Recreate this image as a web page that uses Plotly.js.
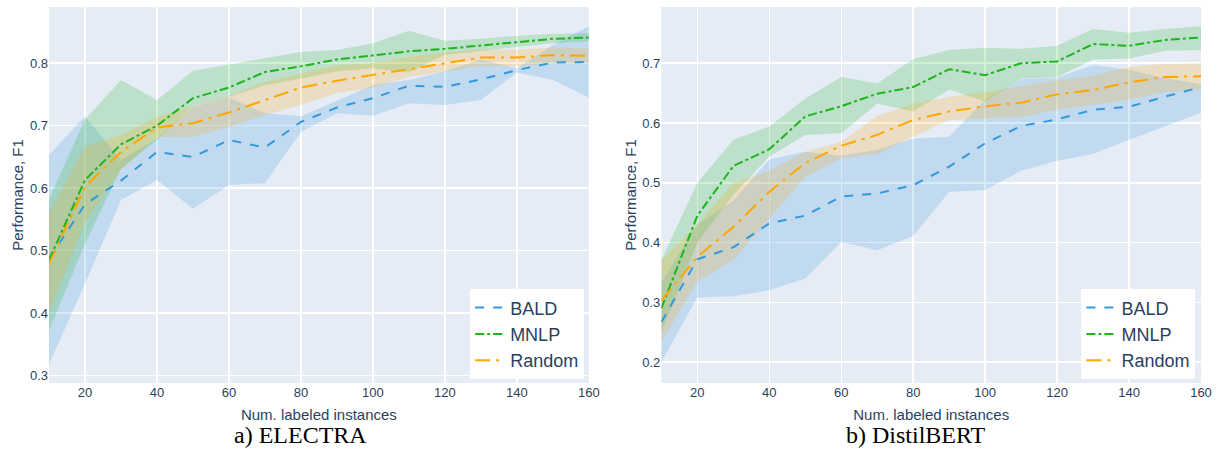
<!DOCTYPE html>
<html><head><meta charset="utf-8">
<script src="https://cdn.plot.ly/plotly-3.0.1.min.js"></script>
<style>html,body{margin:0;padding:0;background:#fff}#chart{width:1218px;height:457px}</style>
</head><body><div id="chart"></div>
<script>
// ---- data ----
const labeled = [10,20,30,40,50,60,70,80,90,100,110,120,130,140,150,160];
const methods = ['BALD','MNLP','Random'];

// a) ELECTRA
const electraBaldMean  = [0.487,0.574,0.612,0.658,0.650,0.677,0.665,0.706,0.729,0.744,0.764,0.762,0.774,0.789,0.801,0.802];
const electraBaldUpper = [0.653,0.715,0.645,0.680,0.730,0.745,0.720,0.715,0.740,0.765,0.773,0.787,0.806,0.792,0.829,0.859];
const electraBaldLower = [0.318,0.447,0.581,0.613,0.567,0.605,0.608,0.690,0.720,0.716,0.736,0.733,0.741,0.785,0.773,0.745];
const electraMnlpMean  = [0.485,0.613,0.670,0.700,0.744,0.761,0.786,0.795,0.806,0.812,0.819,0.823,0.828,0.834,0.839,0.841];
const electraMnlpUpper = [0.582,0.710,0.773,0.741,0.788,0.798,0.809,0.818,0.821,0.832,0.852,0.836,0.839,0.844,0.847,0.848];
const electraMnlpLower = [0.372,0.511,0.631,0.677,0.731,0.746,0.765,0.775,0.787,0.792,0.785,0.813,0.820,0.826,0.832,0.835];
const electraRandMean  = [0.479,0.602,0.658,0.697,0.704,0.721,0.741,0.761,0.772,0.781,0.790,0.800,0.809,0.809,0.813,0.812];
const electraRandUpper = [0.560,0.667,0.685,0.714,0.731,0.748,0.770,0.783,0.797,0.800,0.810,0.817,0.822,0.822,0.825,0.824];
const electraRandLower = [0.400,0.545,0.630,0.682,0.682,0.698,0.717,0.733,0.752,0.761,0.778,0.786,0.795,0.795,0.800,0.799];

// b) DistilBERT
const distilBaldMean  = [0.267,0.372,0.392,0.432,0.445,0.477,0.482,0.496,0.527,0.566,0.595,0.606,0.622,0.627,0.644,0.660];
const distilBaldUpper = [0.334,0.430,0.470,0.539,0.552,0.545,0.555,0.574,0.577,0.639,0.673,0.676,0.697,0.689,0.675,0.665];
const distilBaldLower = [0.200,0.308,0.310,0.320,0.340,0.401,0.387,0.411,0.485,0.488,0.520,0.537,0.548,0.572,0.595,0.617];
const distilMnlpMean  = [0.290,0.445,0.528,0.556,0.611,0.628,0.649,0.660,0.690,0.680,0.700,0.703,0.732,0.729,0.739,0.743];
const distilMnlpUpper = [0.371,0.500,0.572,0.594,0.641,0.677,0.666,0.707,0.722,0.726,0.724,0.729,0.757,0.751,0.757,0.762];
const distilMnlpLower = [0.250,0.400,0.480,0.544,0.580,0.583,0.632,0.619,0.656,0.636,0.674,0.677,0.706,0.708,0.721,0.722];
const distilRandMean  = [0.303,0.376,0.426,0.485,0.533,0.562,0.580,0.605,0.619,0.628,0.634,0.648,0.655,0.668,0.677,0.678];
const distilRandUpper = [0.370,0.430,0.499,0.520,0.552,0.569,0.612,0.632,0.644,0.652,0.662,0.672,0.679,0.694,0.699,0.700];
const distilRandLower = [0.235,0.335,0.371,0.440,0.510,0.541,0.548,0.577,0.605,0.608,0.610,0.622,0.630,0.639,0.652,0.656];

const captions = ['a) ELECTRA','b) DistilBERT'];
const xTitle = 'Num. labeled instances';
const yTitle = 'Performance, F1';

// ---- styles ----
const colors = {BALD:'rgb(52,152,219)', MNLP:'rgb(30,180,30)', Random:'rgb(255,165,0)'};
const fills  = {BALD:'rgba(52,152,219,0.2)', MNLP:'rgba(30,180,30,0.2)', Random:'rgba(255,165,0,0.2)'};
const dashes = {BALD:'dash', MNLP:'dashdot', Random:'longdashdot'};

const panels = [
  {xa:'x', ya:'y', legend:'legend', data:{
    BALD:[electraBaldMean,electraBaldUpper,electraBaldLower],
    MNLP:[electraMnlpMean,electraMnlpUpper,electraMnlpLower],
    Random:[electraRandMean,electraRandUpper,electraRandLower]}},
  {xa:'x2', ya:'y2', legend:'legend2', data:{
    BALD:[distilBaldMean,distilBaldUpper,distilBaldLower],
    MNLP:[distilMnlpMean,distilMnlpUpper,distilMnlpLower],
    Random:[distilRandMean,distilRandUpper,distilRandLower]}}
];

const traces = [];
panels.forEach(p => {
  methods.forEach(m => {
    const [, up, lo] = p.data[m];
    traces.push({
      x: labeled.concat(labeled.slice().reverse()),
      y: up.concat(lo.slice().reverse()),
      xaxis:p.xa, yaxis:p.ya, fill:'toself', fillcolor:fills[m],
      line:{width:0}, mode:'lines', hoverinfo:'skip', showlegend:false
    });
  });
});
panels.forEach(p => {
  methods.forEach(m => {
    traces.push({
      x: labeled, y: p.data[m][0], name:m, xaxis:p.xa, yaxis:p.ya,
      mode:'lines', line:{color:colors[m], width:2, dash:dashes[m]},
      legend:p.legend, showlegend:true
    });
  });
});

const W=1218, H=457, ml=48.5, mr=16.7, mt=7, mb=74.3;
const pw=W-ml-mr, ph=H-mt-mb;
const px = v => (v-ml)/pw;
const py = v => 1-(v-mt)/ph;

const fontFam = 'Liberation Sans, Arial, sans-serif';
const txt = '#2a3f5f';
function xax(domain, anchor){
  return {domain:domain, anchor:anchor, range:[10,160], tick0:0, dtick:20,
    gridcolor:'white', gridwidth:1.5, showline:false, zeroline:false, ticks:'',
    tickfont:{size:13,color:txt}, title:{text:xTitle, standoff:10, font:{size:15,color:txt}}};
}
function yax(range, anchor){
  return {domain:[0,1], anchor:anchor, range:range, dtick:0.1,
    gridcolor:'white', gridwidth:1.5, showline:false, zeroline:false, ticks:'',
    tickfont:{size:13,color:txt}, title:{text:yTitle, standoff:2, font:{size:15,color:txt}}};
}
const legendBase = {bgcolor:'white', borderwidth:0, font:{size:18,color:txt,family:fontFam},
  xanchor:'right', yanchor:'bottom'};

const layout = {
  width:W, height:H, margin:{l:ml, r:mr, t:mt, b:mb},
  paper_bgcolor:'white', plot_bgcolor:'#E5ECF6',
  font:{family:fontFam, color:txt},
  xaxis: xax([0, px(588.7)], 'y'),
  yaxis: yax([0.288,0.890], 'x'),
  xaxis2: xax([px(661.3), 1], 'y2'),
  yaxis2: yax([0.165,0.794], 'x2'),
  legend: Object.assign({x:px(584), y:py(379)}, legendBase),
  legend2: Object.assign({x:px(1195.7), y:py(379)}, legendBase),
  annotations: [
    {text:captions[0], xref:'paper', yref:'paper', x:px(300), y:py(435), showarrow:false,
     xanchor:'center', yanchor:'middle', font:{family:'Liberation Serif, Times New Roman, serif', size:24, color:'black'}},
    {text:captions[1], xref:'paper', yref:'paper', x:px(916.5), y:py(435), showarrow:false,
     xanchor:'center', yanchor:'middle', font:{family:'Liberation Serif, Times New Roman, serif', size:24, color:'black'}}
  ],
  showlegend:true
};
Plotly.newPlot('chart', traces, layout, {staticPlot:true, displayModeBar:false});
</script></body></html>
